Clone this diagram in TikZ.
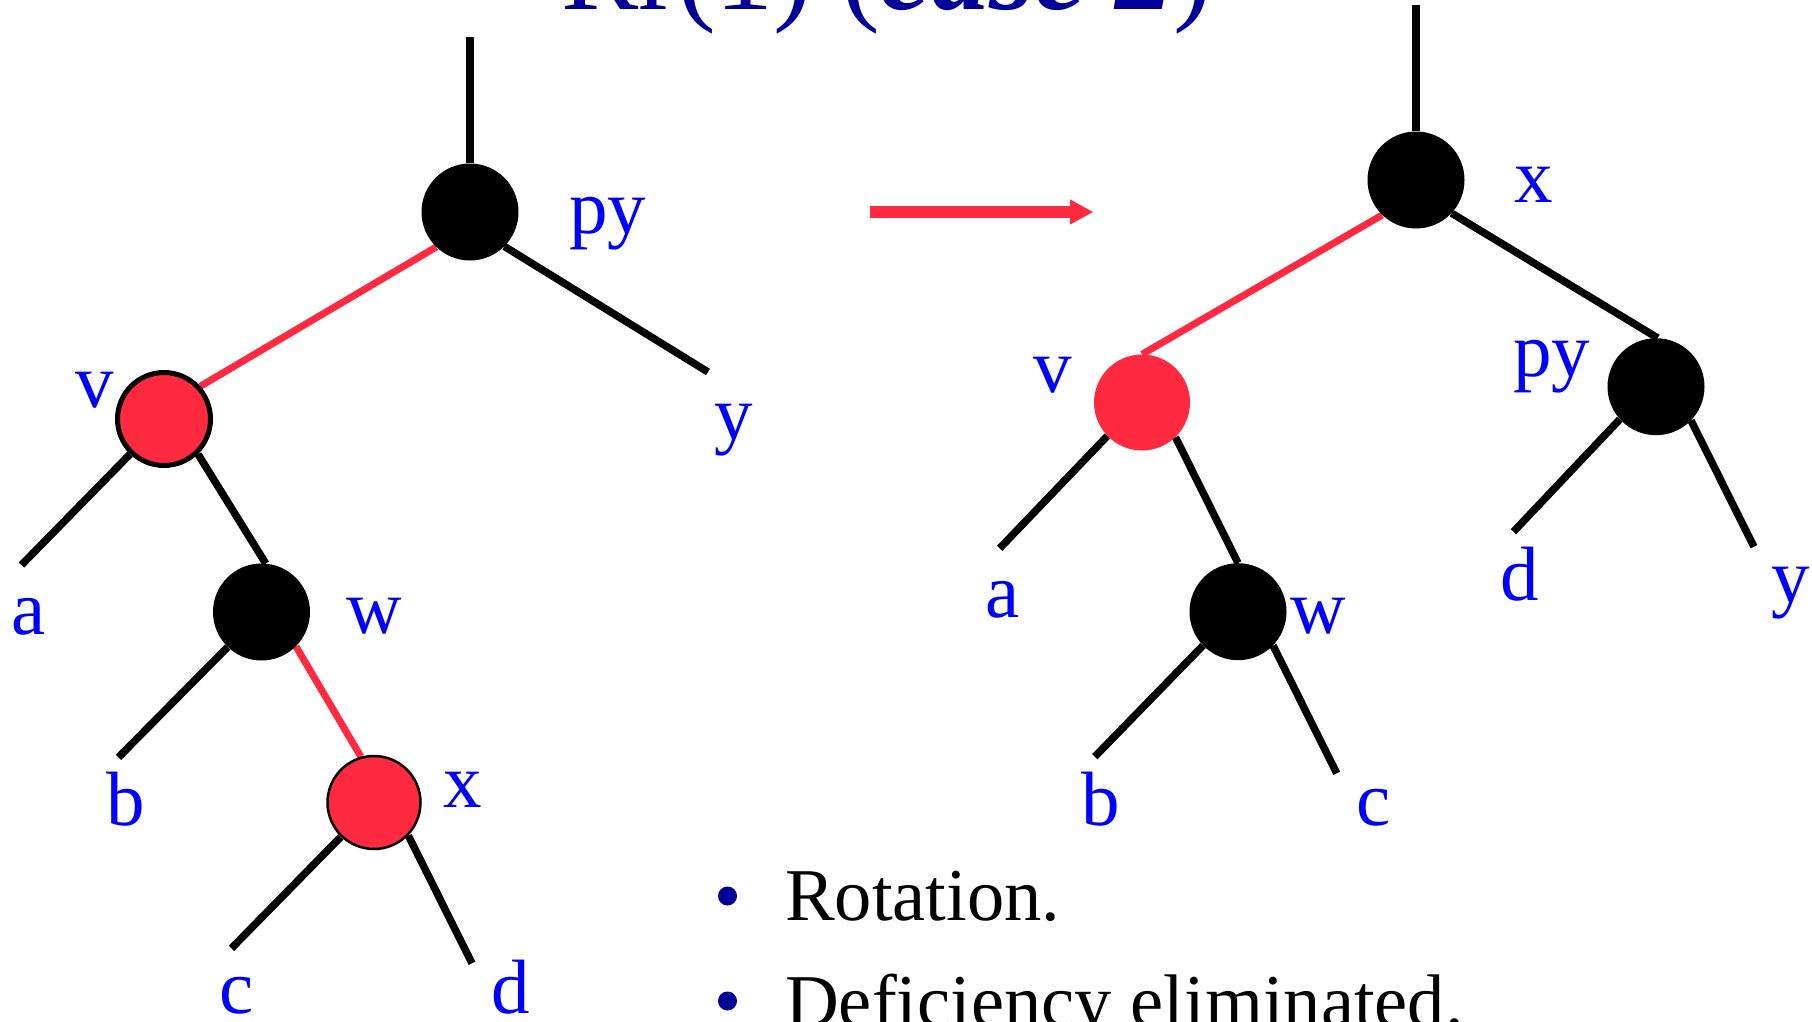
\documentclass[tikz,border=0pt]{standalone}
\usepackage{fontspec}
\setmainfont{Liberation Serif}
\usetikzlibrary{arrows.meta,backgrounds}
\definecolor{rbred}{RGB}{255,41,64}
\definecolor{lblue}{RGB}{0,0,255}
\definecolor{tblue}{RGB}{0,0,153}
\begin{document}
\begin{tikzpicture}[x=1pt,y=-1pt,
  blk/.style={circle,fill=black,minimum size=97pt,inner sep=0pt},
  redthick/.style={circle,fill=rbred,draw=black,line width=5pt,minimum size=93pt,inner sep=0pt},
  redthin/.style={circle,fill=rbred,draw=black,line width=2.5pt,minimum size=93pt,inner sep=0pt},
  redplain/.style={circle,fill=rbred,minimum size=96pt,inner sep=0pt},
  lbl/.style={text=lblue,font=\fontsize{77}{80}\selectfont,anchor=base west,inner sep=0pt},
  txt/.style={text=black,font=\fontsize{74.5}{78}\selectfont,anchor=base west,inner sep=0pt},
  bul/.style={circle,fill=tblue,minimum size=19pt,inner sep=0pt},
  edge/.style={line width=7.5pt,draw=black},
  redge/.style={line width=7pt,draw=rbred}]
\useasboundingbox (0,0) rectangle (1812,1022);

% title
\node[anchor=base west,inner sep=0pt,text=tblue,font=\fontsize{116}{120}\selectfont] (title) at (561,10) {Rr(1) ({\bfseries\itshape case 2})};

% ---------- left tree ----------
\node[blk] (Lpy) at (470,212) {};
\node[redthick] (Lv) at (164,419) {};
\node[blk] (Lw) at (261.5,612) {};
\node[redthin] (Lx) at (374,802.5) {};
\coordinate (Ltop) at (470,37);
\coordinate (Ly) at (708,372);
\coordinate (La) at (21.5,565);
\coordinate (Lb) at (118.5,757.3);
\coordinate (Lc) at (231.5,948.3);
\coordinate (Ld) at (472,963.3);

\node[lbl] (Lpyl) at (569,233) {py};
\node[lbl] (Lvl) at (75,407) {v};
\node[lbl] (Lyl) at (714,439) {y};
\node[lbl] (Lal) at (11,634) {a};
\node[lbl] (Lwl) at (346,633) {w};
\node[lbl] (Lbl) at (106,825) {b};
\node[lbl] (Lxl) at (443,807) {x};
\node[lbl] (Lcl) at (219,1013) {c};
\node[lbl] (Ldl) at (491,1013) {d};

% ---------- right tree ----------
\node[blk] (Rx) at (1416,180) {};
\node[redplain] (Rv) at (1142,402.5) {};
\node[blk] (Rw) at (1238,611.7) {};
\node[blk] (Rpy) at (1656,386.7) {};
\coordinate (Rtop) at (1416,5);
\coordinate (Ra) at (999.7,548.3);
\coordinate (Rb) at (1094.8,756.7);
\coordinate (Rc) at (1336.7,773.3);
\coordinate (Rd) at (1513.5,531.7);
\coordinate (Ry) at (1753.9,546.7);

\node[lbl] (Rxl) at (1514,202) {x};
\node[lbl] (Rvl) at (1033,392) {v};
\node[lbl] (Rpyl) at (1513,376) {py};
\node[lbl] (Ral) at (985,617) {a};
\node[lbl] (Rwl) at (1290,633) {w};
\node[lbl] (Rbl) at (1081,825) {b};
\node[lbl] (Rcl) at (1356,825) {c};
\node[lbl] (Rdl) at (1500,600) {d};
\node[lbl] (Ryl) at (1771,602) {y};

% arrow
\coordinate (arrS) at (870,212);
\coordinate (arrE) at (1093.3,212);
\draw[line width=11.7pt,rbred,-{Triangle[length=23.3pt,width=23.4pt]}] (arrS) -- (arrE);

% bullets
\node[bul] (b1) at (727.5,896) {};
\node[bul] (b2) at (727.5,1001) {};
\node[txt] (t1) at (785,920) {Rotation.};
\node[txt] (t2) at (785,1026) {Deficiency eliminated.};

\begin{scope}[on background layer]
\fill[white] (0,0) rectangle (1812,1022);
% left edges
\draw[edge] (Ltop) -- (Lpy.north);
\draw[redge] (Lpy.226) -- (Lv.42);
\draw[edge] (Lpy.-45) -- (Ly);
\draw[edge] (Lv.226) -- (La);
\draw[edge] (Lv.-46) -- (Lw.85);
\draw[edge] (Lw.226) -- (Lb);
\draw[redge] (Lw.-45) -- (Lx.106);
\draw[edge] (Lx.226) -- (Lc);
\draw[edge] (Lx.-44) -- (Ld);
% right edges
\draw[edge] (Rtop) -- (Rx.north);
\draw[redge] (Rx.226) -- (Rv.north);
\draw[edge] (Rx.-43) -- (Rpy.88);
\draw[edge] (Rv.224) -- (Ra);
\draw[edge] (Rv.-46) -- (Rw.north);
\draw[edge] (Rw.224) -- (Rb);
\draw[edge] (Rw.-44) -- (Rc);
\draw[edge] (Rpy.222) -- (Rd);
\draw[edge] (Rpy.-44) -- (Ry);
\end{scope}
\end{tikzpicture}
\end{document}
